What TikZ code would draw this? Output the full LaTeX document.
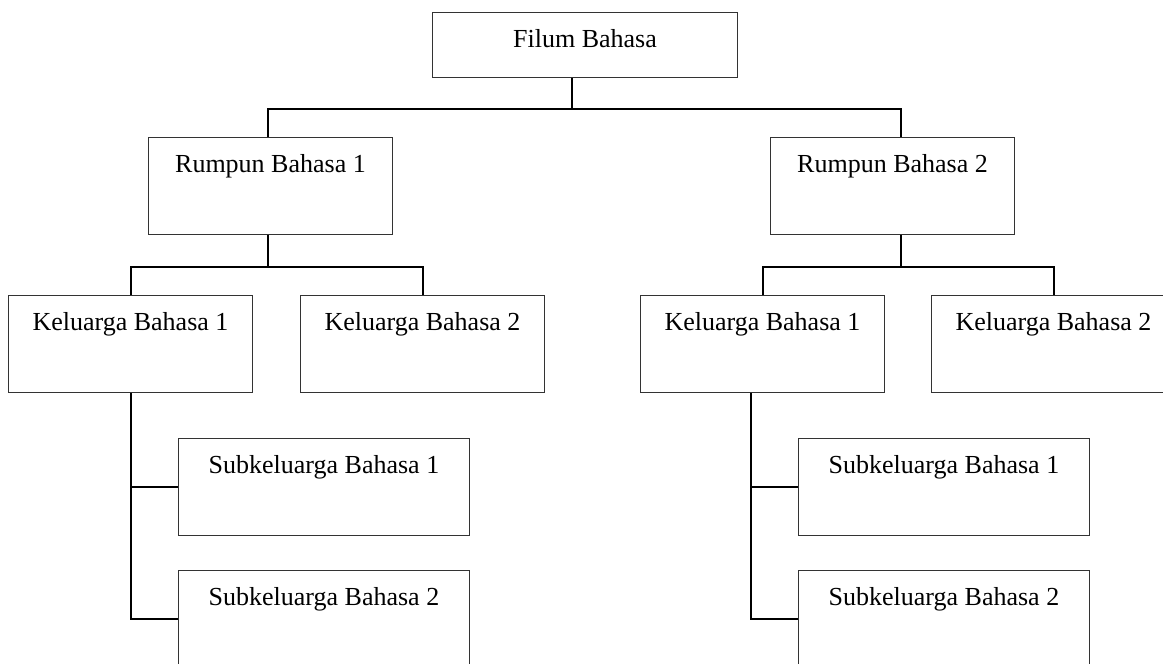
\documentclass[tikz,border=0pt]{standalone}
\usepackage{fontspec}
\setmainfont{Liberation Serif}
\usetikzlibrary
  {
    positioning, % place nodes relative to other nodes
  }

\begin{document}
\begin{tikzpicture}
    [
      x=0.5pt,
      y=-0.5pt,
      node distance=17pt,
      langbox/.style=
        {
          rectangle,
          draw=black!80,
          line width=0.5pt,
          inner xsep=0pt,
          inner ysep=8.5pt,
          text height=9pt,
          text depth=22.5pt,
          minimum width=122pt,
          font=\fontsize{13}{15}\selectfont,
        },
      subbox/.style=
        {
          langbox,
          minimum width=145.5pt,
        },
      link/.style=
        {
          line width=1pt,
          black,
        }
    ]
    \useasboundingbox (0,0) rectangle (1163,664);
    \clip (0,0) rectangle (1163,664);

    \node (filum) [langbox, minimum width=152.5pt, text depth=6.5pt, anchor=north west] at (432,12) {Filum Bahasa};
    \node (rumpunA) [langbox, anchor=north west] at (148,137) {Rumpun Bahasa 1};
    \node (rumpunB) [langbox, anchor=north west] at (770,137) {Rumpun Bahasa 2};

    \node (keluargaA1) [langbox, anchor=north west] at (8,295) {Keluarga Bahasa 1};
    \node (keluargaA2) [langbox, right=23.5pt of keluargaA1] {Keluarga Bahasa 2};
    \node (keluargaB1) [langbox, anchor=north west] at (640,295) {Keluarga Bahasa 1};
    \node (keluargaB2) [langbox, right=23pt of keluargaB1] {Keluarga Bahasa 2};

    \node (subA1) [subbox, anchor=north west] at (178,438) {Subkeluarga Bahasa 1};
    \node (subA2) [subbox, below=of subA1] {Subkeluarga Bahasa 2};
    \node (subB1) [subbox, anchor=north west] at (798,438) {Subkeluarga Bahasa 1};
    \node (subB2) [subbox, below=of subB1] {Subkeluarga Bahasa 2};

    % junction points of the tree
    \coordinate (hub0) at (572,109);
    \coordinate (hubA) at (268,267);
    \coordinate (hubB) at (901,267);
    \coordinate (trunkA) at (keluargaA1.south);
    \coordinate (trunkB) at ([xshift=-6pt]keluargaB1.south);

    \draw [link] (filum.south -| hub0) -- (hub0);
    \draw [link] (rumpunA.north -| hubA) |- (hub0) -| (rumpunB.north -| hubB);

    \draw [link] (rumpunA.south -| hubA) -- (hubA);
    \draw [link] (keluargaA1.north) |- (hubA) -| (keluargaA2.north);
    \draw [link] (rumpunB.south -| hubB) -- (hubB);
    \draw [link] (keluargaB1.north) |- (hubB) -| (keluargaB2.north);

    \draw [link] (trunkA) |- (subA2.west);
    \draw [link] (subA1.west) -- (subA1.west -| trunkA);
    \draw [link] (trunkB) |- (subB2.west);
    \draw [link] (subB1.west) -- (subB1.west -| trunkB);
  \end{tikzpicture}
\end{document}
